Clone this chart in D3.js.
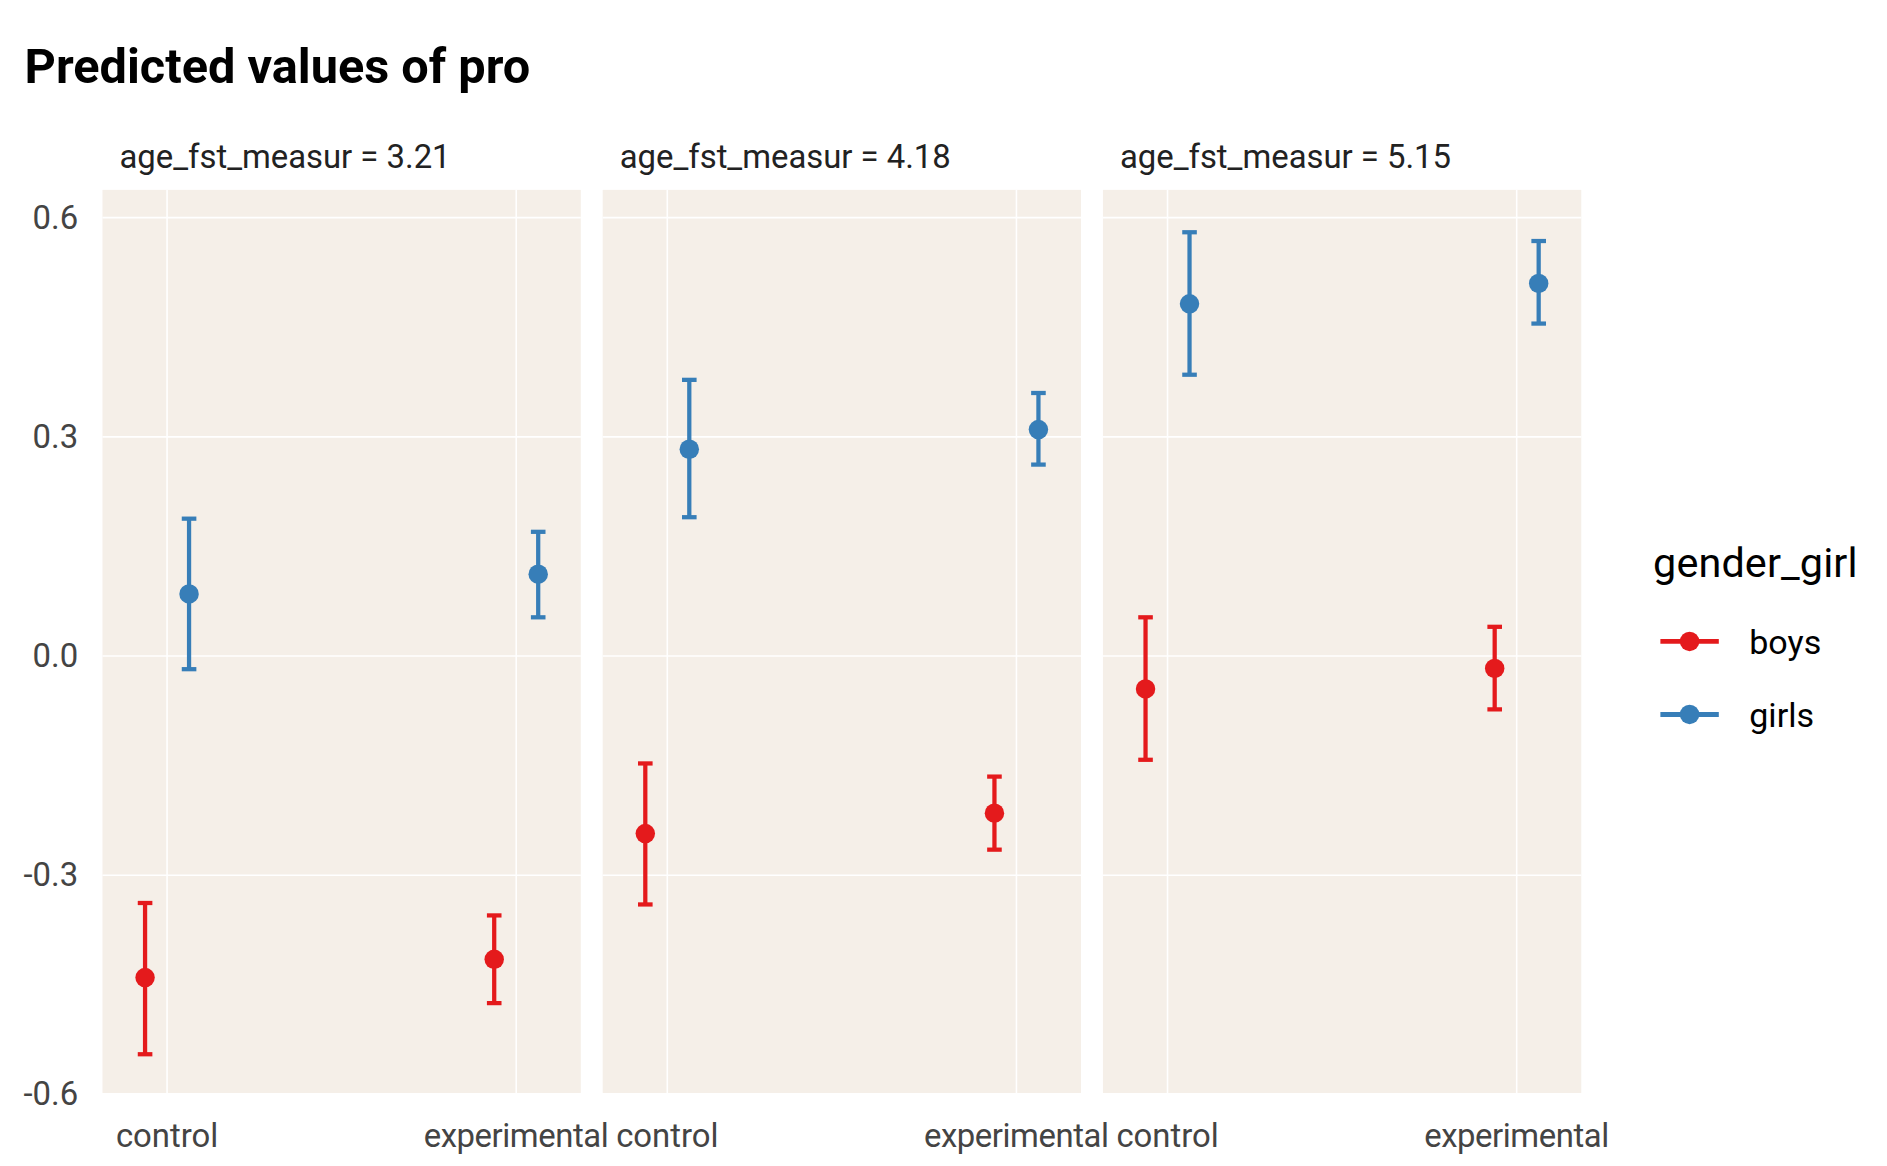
<!DOCTYPE html>
<html><head><meta charset="utf-8">
<script src="https://cdn.jsdelivr.net/npm/d3@7"></script>
<style>body{margin:0;background:#fff}text{font-family:Roboto,sans-serif}</style>
</head><body>
<svg id="chart" width="1887" height="1166" viewBox="0 0 1550 958"></svg>
<script>
// data
const panels = ["3.21", "4.18", "5.15"];
const conditions = ["control", "experimental"];
const groups = ["boys", "girls"];
const colors = {boys: "#e41a1c", girls: "#377eb8"};
// [panel][condition] = [estimate, low, high]
const boys = [
  [[-0.44, -0.545, -0.338], [-0.415, -0.475, -0.355]],
  [[-0.243, -0.34, -0.147], [-0.215, -0.265, -0.165]],
  [[-0.045, -0.142, 0.053], [-0.017, -0.073, 0.04]]
];
const girls = [
  [[0.085, -0.018, 0.188], [0.112, 0.053, 0.17]],
  [[0.283, 0.19, 0.378], [0.31, 0.262, 0.36]],
  [[0.482, 0.385, 0.58], [0.51, 0.455, 0.568]]
];
const yTicks = [0.6, 0.3, 0.0, -0.3, -0.6];

const svg = d3.select("#chart");
const plotTop = 156, plotBottom = 898, panelW = 393, gap = 18, left0 = 84;
const y = d3.scaleLinear().domain([-0.598, 0.638]).range([plotBottom, plotTop]);

svg.append("text").attr("x", 20).attr("y", 68).attr("font-size", 40)
  .attr("font-weight", "bold").text("Predicted values of pro");

panels.forEach((p, i) => {
  const x0 = left0 + i * (panelW + gap);
  const x = d3.scaleLinear().domain([0.815, 2.185]).range([x0, x0 + panelW]);
  const g = svg.append("g");
  g.append("rect").attr("x", x0).attr("y", plotTop).attr("width", panelW)
    .attr("height", plotBottom - plotTop).attr("fill", "#f5efe8");
  yTicks.forEach(t => g.append("line").attr("x1", x0).attr("x2", x0 + panelW)
    .attr("y1", y(t)).attr("y2", y(t)).attr("stroke", "#fff").attr("stroke-width", 1.3));
  conditions.forEach((c, ci) => {
    g.append("line").attr("x1", x(ci + 1)).attr("x2", x(ci + 1)).attr("y1", plotTop).attr("y2", plotBottom)
      .attr("stroke", "#fff").attr("stroke-width", 1.3);
    g.append("text").attr("x", x(ci + 1)).attr("y", 942).attr("text-anchor", "middle")
      .attr("font-size", 27).attr("fill", "#444").attr("textLength", ci ? 152 : 84).text(c);
  });
  g.append("text").attr("x", x0 + 14).attr("y", 138).attr("font-size", 27).attr("fill", "#222")
    .attr("textLength", 272).text("age_fst_measur = " + p);
  [["boys", boys, -0.063], ["girls", girls, 0.063]].forEach(([name, arr, off]) => {
    arr[i].forEach((d, ci) => {
      const cx = x(ci + 1 + off), col = colors[name];
      g.append("line").attr("x1", cx).attr("x2", cx).attr("y1", y(d[1])).attr("y2", y(d[2]))
        .attr("stroke", col).attr("stroke-width", 3.5);
      [d[1], d[2]].forEach(v => g.append("line").attr("x1", cx - 6).attr("x2", cx + 6)
        .attr("y1", y(v)).attr("y2", y(v)).attr("stroke", col).attr("stroke-width", 3.5));
      g.append("circle").attr("cx", cx).attr("cy", y(d[0])).attr("r", 8).attr("fill", col);
    });
  });
});

yTicks.forEach(t => svg.append("text").attr("x", 64).attr("y", y(t) + 9).attr("text-anchor", "end")
  .attr("font-size", 27).attr("fill", "#444").text(t.toFixed(1)));

svg.append("text").attr("x", 1358).attr("y", 474).attr("font-size", 34)
  .attr("textLength", 168).text("gender_girl");
groups.forEach((gname, k) => {
  const ly = 527 + k * 60;
  svg.append("line").attr("x1", 1364).attr("x2", 1412).attr("y1", ly).attr("y2", ly)
    .attr("stroke", colors[gname]).attr("stroke-width", 4);
  svg.append("circle").attr("cx", 1388).attr("cy", ly).attr("r", 8).attr("fill", colors[gname]);
  svg.append("text").attr("x", 1437).attr("y", ly + 10).attr("font-size", 28).text(gname);
});
</script>
</body></html>
